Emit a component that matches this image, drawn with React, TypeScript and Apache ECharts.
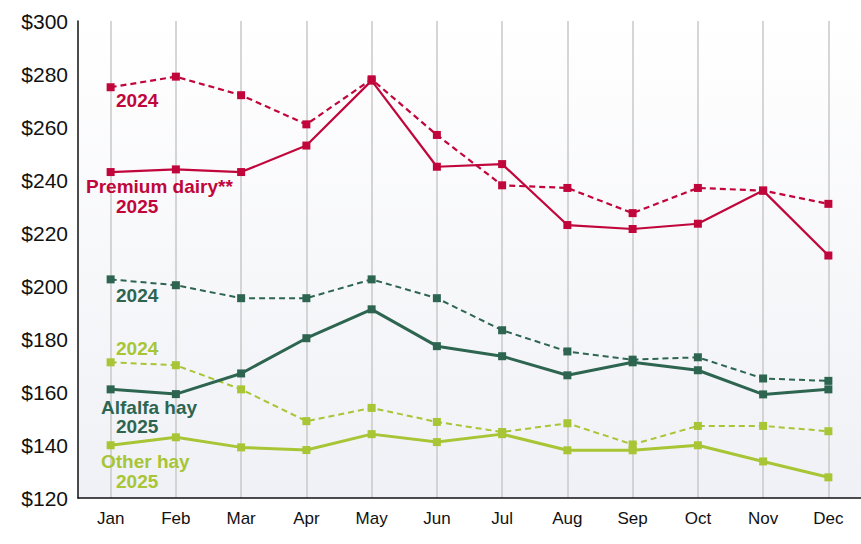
import React, { useEffect, useRef } from "react";
import * as echarts from "echarts";

const months = ["Jan", "Feb", "Mar", "Apr", "May", "Jun", "Jul", "Aug", "Sep", "Oct", "Nov", "Dec"];
const premium2024 = [275, 279, 272, 261, 278, 257, 238, 237, 227.5, 237, 236, 231];
const premium2025 = [243, 244, 243, 253, 277.5, 245, 246, 223, 221.5, 223.5, 236, 211.5];
const alfalfa2024 = [202.5, 200.3, 195.4, 195.4, 202.5, 195.4, 183.3, 175.3, 172.2, 173.1, 165.1, 164.2];
const alfalfa2025 = [161, 159.2, 167, 180.3, 191.2, 177.3, 173.5, 166.3, 171.2, 168.2, 159.1, 161];
const other2024 = [171.2, 170.1, 161, 149, 154, 148.7, 144.9, 148.2, 140.2, 147.2, 147.2, 145.2];
const other2025 = [139.9, 142.9, 139.1, 138.1, 144.1, 141.1, 144.1, 138, 138, 139.9, 133.8, 127.8];
const yTicks = { min: 120, max: 300, interval: 20 };

const RED = "#c0063b";
const GREEN = "#2d6551";
const LIME = "#a7c535";
const FONT = "'Liberation Sans', Arial, sans-serif";

export default function App() {
  const ref = useRef<HTMLDivElement>(null);
  useEffect(() => {
    if (!ref.current) return;
    const chart = echarts.init(ref.current, null, { renderer: "svg" });
    const line = (data: number[], color: string, dashed: boolean, width: number, z: number) => ({
      type: "line",
      data,
      symbol: "rect",
      symbolSize: 8,
      z,
      itemStyle: { color },
      lineStyle: { color, width, type: dashed ? [6, 4] : "solid" },
    });
    const label = (text: string, x: number, y: number, color: string) => ({
      type: "text",
      left: x,
      top: y - 11,
      z: 100,
      style: {
        text,
        fill: color,
        font: "bold 19px " + FONT,
      },
    });
    chart.setOption({
      animation: false,
      grid: {
        left: 78,
        top: 21,
        width: 798,
        height: 477,
        show: true,
        borderWidth: 0,
        backgroundColor: {
          type: "linear",
          x: 0,
          y: 0,
          x2: 0,
          y2: 1,
          colorStops: [
            { offset: 0, color: "#ffffff" },
            { offset: 1, color: "#f0f1f6" },
          ],
        },
      },
      xAxis: {
        type: "category",
        data: months,
        boundaryGap: true,
        axisLine: { lineStyle: { color: "#111", width: 1.5 } },
        axisTick: { alignWithLabel: true, length: 8, lineStyle: { color: "#bbb", width: 1.5 } },
        axisLabel: {
          color: "#111",
          fontSize: 17,
          fontFamily: FONT,
          margin: 12,
        },
        splitLine: { show: true, alignWithLabel: true, lineStyle: { color: "#c9c9c9", width: 1.5 } },
      },
      yAxis: {
        type: "value",
        min: yTicks.min,
        max: yTicks.max,
        interval: yTicks.interval,
        axisLine: { show: true, lineStyle: { color: "#111", width: 1.5 } },
        axisTick: { show: false },
        splitLine: { show: false },
        axisLabel: {
          color: "#111",
          fontSize: 21,
          fontFamily: FONT,
          margin: 10,
          formatter: (v: number) => "$" + v,
        },
      },
      series: [
        line(other2024, LIME, true, 2, 2),
        line(alfalfa2024, GREEN, true, 2, 2),
        line(premium2024, RED, true, 2.2, 2),
        line(other2025, LIME, false, 3, 3),
        line(alfalfa2025, GREEN, false, 3, 3),
        line(premium2025, RED, false, 2.2, 3),
      ],
      graphic: [
        label("2024", 116, 102, RED),
        label("Premium dairy**", 86, 188, RED),
        label("2025", 116, 208, RED),
        label("2024", 116, 297, GREEN),
        label("2024", 116, 350, LIME),
        label("Alfalfa hay", 101, 409, GREEN),
        label("2025", 116, 428, GREEN),
        label("Other hay", 101, 463, LIME),
        label("2025", 116, 483, LIME),
      ],
    });
    return () => chart.dispose();
  }, []);
  return (
    <div
      ref={ref}
      style={{ position: "absolute", left: 0, top: 0, width: 861, height: 544, background: "#fff" }}
    />
  );
}
